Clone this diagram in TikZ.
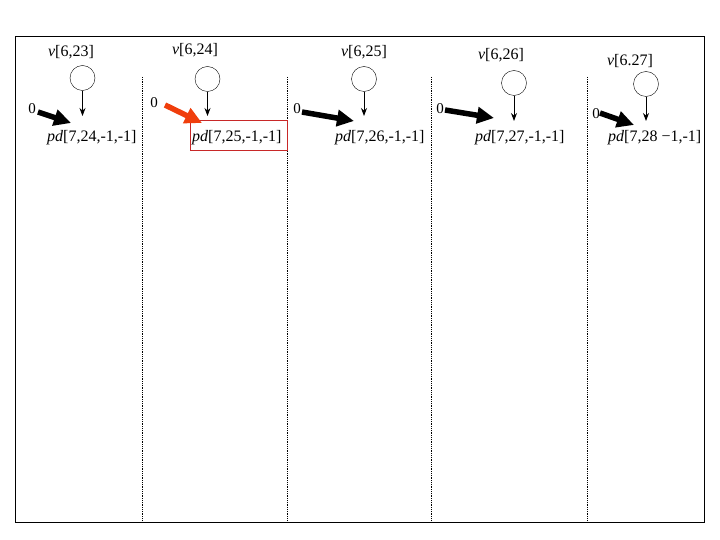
\documentclass[tikz,border=0pt]{standalone}
\usepackage{fontspec}
\setmainfont{Liberation Serif}
\usetikzlibrary{arrows.meta}
\definecolor{hot}{RGB}{240,62,12}
\definecolor{boxred}{RGB}{200,40,40}

\begin{document}
\begin{tikzpicture}[x=1pt,y=-1pt]
\tikzset{vertex/.style = {draw, circle, minimum size=25pt, inner sep=0pt},
         lbl/.style = {font=\fontsize{16}{18}\selectfont, inner sep=1pt},
         zero/.style = {font=\fontsize{15}{17}\selectfont, inner sep=0pt},
         down/.style = {-{Stealth[length=8pt,width=6pt]}, line width=.8pt},
         fat/.style = {line width=5.5pt, -{Triangle[length=17pt,width=16pt]}}}
\def\pdy{138}
\useasboundingbox (0,0) rectangle (720,540);
\draw[line width=1pt] (15,37) rectangle (704,522);
\foreach \x in {142,287,431,587} \draw[densely dotted, line width=.8pt] (\x,77) -- (\x,522);

% column 1
\node[lbl] (v1) at (71,52) {\textit{v}[6,23]};
\node[vertex] (c1) at (82.5,78) {};
\node[lbl, anchor=west] (pd1) at (46,\pdy) {\textit{pd}[7,24,-1,-1]};
\node[zero] (z1) at (32,109) {0};
\coordinate (d1) at (82.5,116);
\coordinate (f1) at (38,112);
\coordinate (h1) at (71,123);
\draw[down] (c1) -- (d1);
\draw[fat] (f1) -- (h1);

% column 2
\node[lbl] (v2) at (195,50) {\textit{v}[6,24]};
\node[vertex] (c2) at (207.5,79) {};
\node[lbl, anchor=west] (pd2) at (191,\pdy) {\textit{pd}[7,25,-1,-1]};
\draw[boxred] (190,120) rectangle (287,150);
\node[zero] (z2) at (154,103) {0};
\coordinate (d2) at (207.5,116);
\coordinate (f2) at (165,105);
\coordinate (h2) at (202,123);
\draw[down] (c2) -- (d2);
\draw[fat, hot] (f2) -- (h2);

% column 3
\node[lbl] (v3) at (364,52) {\textit{v}[6,25]};
\node[vertex] (c3) at (364,79) {};
\node[lbl, anchor=west] (pd3) at (334,\pdy) {\textit{pd}[7,26,-1,-1]};
\node[zero] (z3) at (297,109) {0};
\coordinate (d3) at (364,116);
\coordinate (f3) at (302,112);
\coordinate (h3) at (354,121);
\draw[down] (c3) -- (d3);
\draw[fat] (f3) -- (h3);

% column 4
\node[lbl] (v4) at (501,55) {\textit{v}[6,26]};
\node[vertex] (c4) at (514,83) {};
\node[lbl, anchor=west] (pd4) at (474,\pdy) {\textit{pd}[7,27,-1,-1]};
\node[zero] (z4) at (440,109) {0};
\coordinate (d4) at (514,121);
\coordinate (f4) at (445,110);
\coordinate (h4) at (494,118);
\draw[down] (c4) -- (d4);
\draw[fat] (f4) -- (h4);

% column 5
\node[lbl] (v5) at (630,61) {\textit{v}[6.27]};
\node[vertex] (c5) at (646,84) {};
\node[lbl, anchor=west] (pd5) at (607,\pdy) {\textit{pd}[7,28 −1,-1]};
\node[zero] (z5) at (596,114) {0};
\coordinate (d5) at (646,121);
\coordinate (f5) at (600,113);
\coordinate (h5) at (634,125);
\draw[down] (c5) -- (d5);
\draw[fat] (f5) -- (h5);
\end{tikzpicture}
\end{document}
